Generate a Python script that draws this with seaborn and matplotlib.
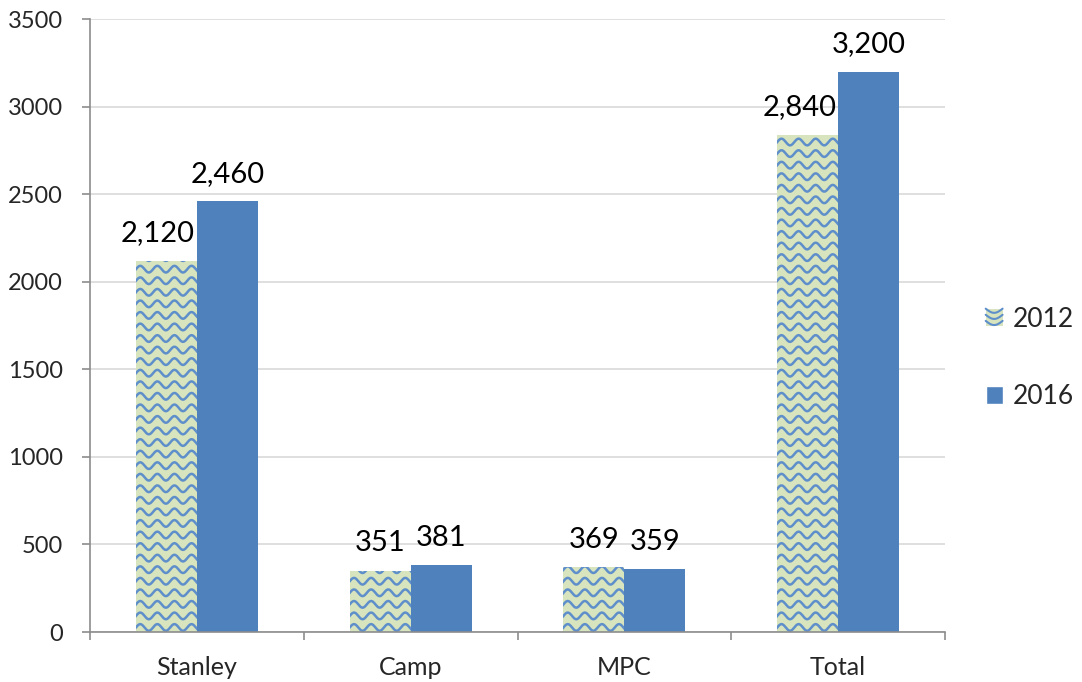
import numpy as np
import pandas as pd
import matplotlib
matplotlib.use('Agg')
from matplotlib import pyplot as plt
from matplotlib.patches import Rectangle
from matplotlib.lines import Line2D
from matplotlib.legend_handler import HandlerPatch
import seaborn as sns

# Dados do gráfico
categorias = ['Stanley', 'Camp', 'MPC', 'Total']
anos = ['2012', '2016']
valores_2012 = [2120, 351, 369, 2840]
valores_2016 = [2460, 381, 359, 3200]
yticks = [0, 500, 1000, 1500, 2000, 2500, 3000, 3500]

df = pd.DataFrame({'categoria': categorias * 2,
                   'ano': ['2012'] * 4 + ['2016'] * 4,
                   'valor': valores_2012 + valores_2016})

# Cores
verde = '#d7e4bd'
onda = '#5f8fcb'
azul = '#4f81bd'

sns.set_style('white')
plt.rcParams['font.family'] = ['Lato', 'DejaVu Sans']

fig = plt.figure(figsize=(10.82, 6.82), dpi=100)
ax = fig.add_axes([0.0832, 0.0733, 0.7902, 0.8987])

sns.barplot(data=df, x='categoria', y='valor', hue='ano',
            palette={'2012': verde, '2016': azul},
            width=0.57, linewidth=0, saturation=1, legend=False, ax=ax)

# Textura ondulada nas barras de 2012
for patch in ax.containers[0]:
    x0 = patch.get_x()
    w = patch.get_width()
    h = patch.get_height()
    xs = np.linspace(x0 - 0.05, x0 + w + 0.05, 200)
    for base in np.arange(-40, h + 80, 66):
        ys = base + 19 * np.sin(2 * np.pi * (xs - x0) / 0.08)
        ln, = ax.plot(xs, ys, color=onda, lw=1.8, solid_capstyle='butt')
        ln.set_clip_path(patch)

# Rótulos dos valores (os de 2012 com milhar ficam um pouco à esquerda)
for i, cont in enumerate(ax.containers):
    for patch in cont:
        v = patch.get_height()
        dx = -6 if (i == 0 and v >= 1000) else 0
        ax.annotate(f'{v:,.0f}', (patch.get_x() + patch.get_width() / 2, v),
                    xytext=(dx, 14), textcoords='offset points',
                    ha='center', va='baseline', fontsize=21, color='black')

ax.set_xlim(-0.5, 3.5)
ax.set_ylim(0, 3500)
ax.set_yticks(yticks)
ax.set_xlabel('')
ax.set_ylabel('')

ax.yaxis.grid(True, color='#d9d9d9', lw=1.2)
ax.set_axisbelow(True)
for s in ['top', 'right']:
    ax.spines[s].set_visible(False)
for s in ['left', 'bottom']:
    ax.spines[s].set_color('#8c8c8c')
    ax.spines[s].set_linewidth(1.2)

ax.tick_params(axis='y', length=5.5, width=1.2, color='#8c8c8c', pad=14,
               labelsize=17, left=True)
ax.tick_params(axis='x', which='major', length=0, pad=17, labelsize=18)
ax.set_xticks([-0.5, 0.5, 1.5, 2.5, 3.5], minor=True)
ax.tick_params(axis='x', which='minor', length=5.5, width=1.2,
               color='#8c8c8c', bottom=True)


# Legenda com a textura
class HandlerOnda(HandlerPatch):
    def create_artists(self, legend, orig_handle, xdescent, ydescent,
                       width, height, fontsize, trans):
        rect = Rectangle((-xdescent, -ydescent), width, height,
                         facecolor=verde, edgecolor='none', transform=trans)
        arts = [rect]
        xs = np.linspace(-xdescent, -xdescent + width, 40)
        for frac in [0.3, 0.65, 1.0]:
            ys = -ydescent + height * frac - 3 * np.abs(np.sin(np.pi * (xs + xdescent) / width))
            arts.append(Line2D(xs, ys, color=onda, lw=1.5, transform=trans))
        return arts


h2012 = Rectangle((0, 0), 1, 1, facecolor=verde)
h2016 = Rectangle((0, 0), 1, 1, facecolor=azul)
fig.legend([h2012, h2016], anos, loc='center left',
           bbox_to_anchor=(0.911, 0.475), frameon=False, fontsize=19,
           borderpad=0, borderaxespad=0,
           handlelength=0.64, handleheight=0.64, handletextpad=0.38,
           labelspacing=2.0,
           handler_map={h2012: HandlerOnda()})

fig.savefig('out.png', dpi=100)
